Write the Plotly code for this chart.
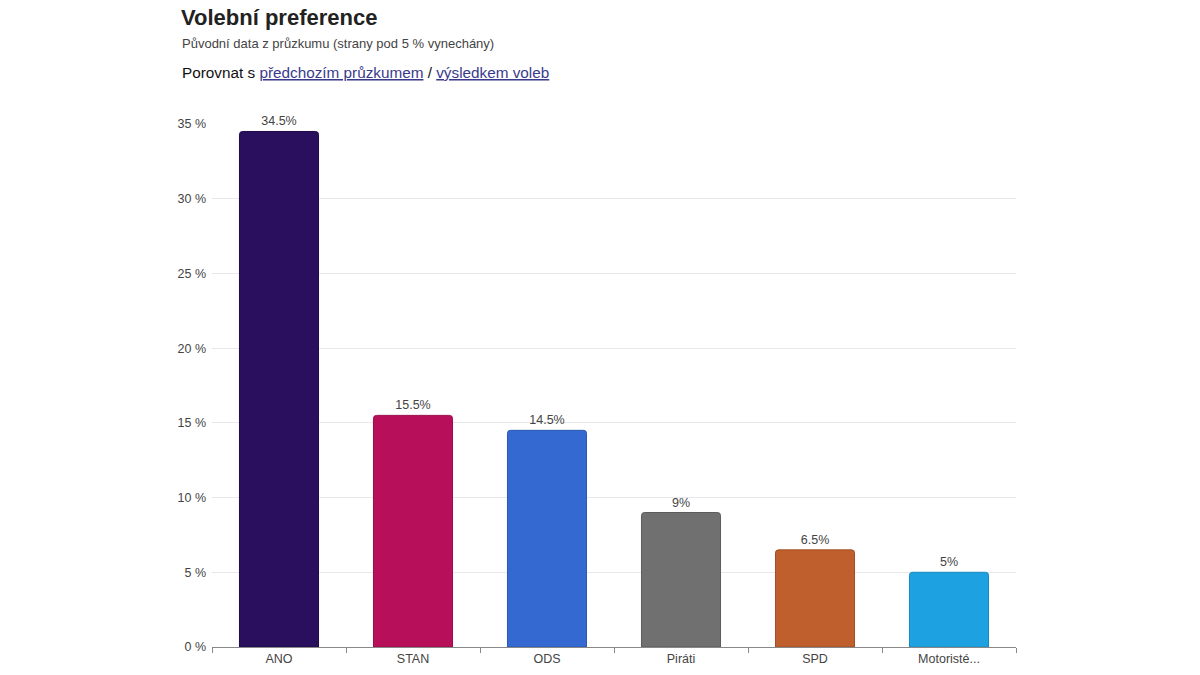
import plotly.graph_objects as go

categories = ["ANO", "STAN", "ODS", "Piráti", "SPD", "Motoristé..."]
values = [34.5, 15.5, 14.5, 9, 6.5, 5]
labels = ["34.5%", "15.5%", "14.5%", "9%", "6.5%", "5%"]
colors = ["#290f5e", "#b80f5a", "#3369d1", "#707070", "#c05f2e", "#1da1e0"]
outlines = ["#1e0a48", "#9a0c4b", "#2a57b0", "#5c5c5c", "#a04e25", "#1888bd"]
tick_vals = [0, 5, 10, 15, 20, 25, 30, 35]
tick_text = ["0 %", "5 %", "10 %", "15 %", "20 %", "25 %", "30 %", "35 %"]

FONT = "Liberation Sans, Arial, Helvetica, sans-serif"

# page offset of the figure inside the browser window (body margin)
OFF = 8
L, R, T, B = 212 - OFF, 1200 - (1016 - OFF), 124 - OFF, 675 - (647 - OFF)

fig = go.Figure(go.Bar(
    x=categories, y=values, text=labels, textposition="outside",
    textfont=dict(size=12.5, color="#444444", family=FONT),
    marker=dict(color=colors, line=dict(color=outlines, width=1), cornerradius=3),
    width=0.59, cliponaxis=False, hoverinfo="skip",
))

fig.update_layout(
    width=1200, height=675,
    margin=dict(l=L, r=R, t=T, b=B),
    plot_bgcolor="white", paper_bgcolor="white",
    font=dict(family=FONT, color="#444444"),
    showlegend=False,
    xaxis=dict(
        showline=True, linecolor="#888888", linewidth=1,
        ticks="outside", ticklen=5, tickcolor="#888888", tickson="boundaries",
        tickfont=dict(size=12.5, color="#444444"), showgrid=False,
        fixedrange=True,
    ),
    yaxis=dict(
        range=[0, 35], tickvals=tick_vals, ticktext=tick_text,
        showgrid=True, gridcolor="#e8e8ec", gridwidth=1, zeroline=False,
        tickfont=dict(size=12.5, color="#444444"), ticks="", ticklabelstandoff=5,
        fixedrange=True,
    ),
)

pw = 1200 - L - R
ph = 675 - T - B
def px(x):
    return (x - OFF - L) / pw
def py(y):
    return (675 - B - (y - OFF)) / ph

fig.add_annotation(text="<b>Volební preference</b>", x=px(179), y=py(17), xref="paper", yref="paper",
                   xanchor="left", yanchor="middle", showarrow=False,
                   font=dict(size=22, color="#222222", family=FONT))
fig.add_annotation(text="Původní data z průzkumu (strany pod 5 % vynechány)", x=px(180), y=py(43),
                   xref="paper", yref="paper", xanchor="left", yanchor="middle", showarrow=False,
                   font=dict(size=13, color="#444444", family=FONT))
fig.add_annotation(
    text="Porovnat s <span style='color:#3a3a8c'><u>předchozím průzkumem</u></span> / "
         "<span style='color:#3a3a8c'><u>výsledkem voleb</u></span>",
    x=px(180), y=py(73), xref="paper", yref="paper", xanchor="left", yanchor="middle",
    showarrow=False, font=dict(size=15.3, color="#111111", family=FONT))

fig.write_html("out.html")
